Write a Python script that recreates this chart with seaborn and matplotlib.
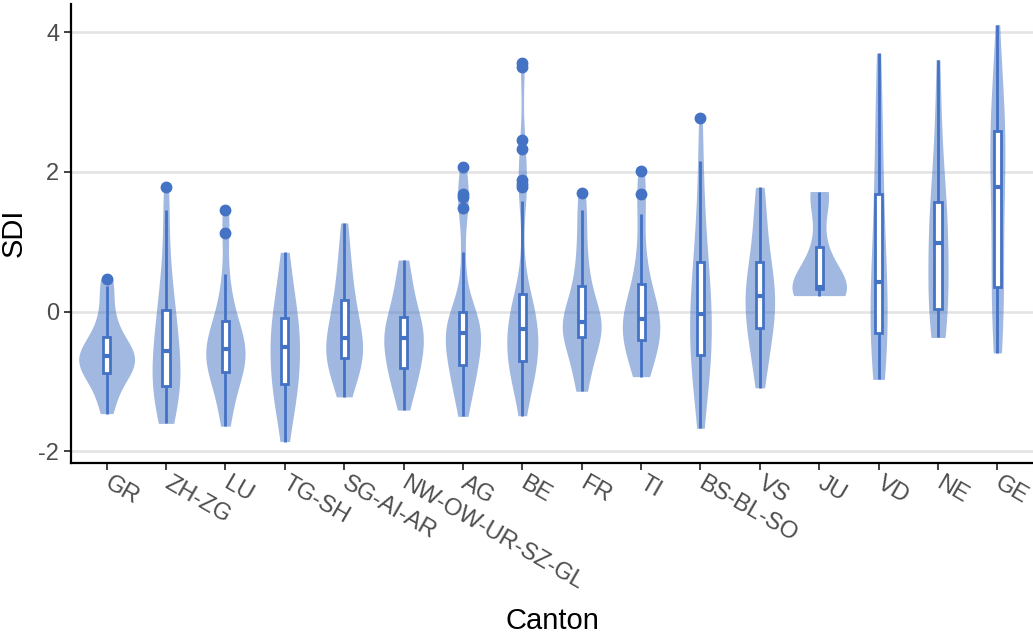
import numpy as np
import pandas as pd
import matplotlib
matplotlib.use("Agg")
import matplotlib.pyplot as plt
import seaborn as sns

# SDI-Werte je Kanton
cantons = ["GR", "ZH-ZG", "LU", "TG-SH", "SG-AI-AR", "NW-OW-UR-SZ-GL", "AG", "BE",
           "FR", "TI", "BS-BL-SO", "VS", "JU", "VD", "NE", "GE"]

sdi_gr = [-1.46, -1.3, -1.12, -1.0, -0.93, -0.88, -0.82, -0.77, -0.72, -0.68, -0.64,
          -0.61, -0.57, -0.52, -0.45, -0.37, -0.25, -0.1, 0.1, 0.37, 0.47]
sdi_zh = [-1.6, -1.42, -1.3, -1.2, -1.12, -1.06, -1.0, -0.92, -0.82, -0.7, -0.56,
          -0.45, -0.35, -0.2, -0.08, 0.03, 0.25, 0.5, 0.85, 1.45, 1.78]
sdi_lu = [-1.64, -1.4, -1.2, -1.05, -0.95, -0.86, -0.78, -0.72, -0.66, -0.6, -0.54,
          -0.48, -0.42, -0.34, -0.25, -0.14, 0.0, 0.2, 0.54, 1.12, 1.46]
sdi_tg = [-1.86, -1.6, -1.4, -1.25, -1.12, -1.03, -0.95, -0.86, -0.76, -0.63, -0.51,
          -0.42, -0.34, -0.25, -0.17, -0.09, 0.05, 0.2, 0.4, 0.6, 0.85]
sdi_sg = [-1.22, -1.05, -0.9, -0.8, -0.72, -0.67, -0.62, -0.57, -0.52, -0.45, -0.38,
          -0.3, -0.2, -0.08, 0.05, 0.17, 0.3, 0.5, 0.7, 0.95, 1.27]
sdi_nw = [-1.41, -1.2, -1.05, -0.95, -0.87, -0.8, -0.7, -0.6, -0.52, -0.45, -0.38,
          -0.33, -0.28, -0.22, -0.15, -0.08, 0.05, 0.2, 0.35, 0.55, 0.74]
sdi_ag = [-1.5, -1.3, -1.15, -1.02, -0.92, -0.84, -0.77, -0.68, -0.6, -0.52, -0.45,
          -0.37, -0.3, -0.26, -0.22, -0.17, -0.11, -0.05, 0.0, 0.3, 0.85,
          1.49, 1.64, 1.69, 2.07]
sdi_be = [-1.49, -1.3, -1.15, -1.05, -0.97, -0.9, -0.85, -0.8, -0.75, -0.7, -0.65,
          -0.6, -0.55, -0.5, -0.45, -0.4, -0.35, -0.3, -0.25, -0.2, -0.15, -0.1,
          -0.04, 0.03, 0.1, 0.16, 0.21, 0.26, 0.8, 1.59,
          1.78, 1.83, 1.88, 2.33, 2.46, 3.5, 3.56]
sdi_fr = [-1.14, -0.95, -0.8, -0.65, -0.5, -0.37, -0.32, -0.28, -0.24, -0.2, -0.15,
          -0.1, -0.03, 0.08, 0.2, 0.37, 0.55, 0.8, 1.1, 1.45, 1.7]
sdi_ti = [-0.93, -0.8, -0.7, -0.6, -0.5, -0.4, -0.33, -0.27, -0.21, -0.15, -0.1,
          -0.04, 0.03, 0.12, 0.25, 0.4, 0.6, 0.9, 1.4, 1.69, 2.02]
sdi_bs = [-1.67, -1.3, -1.05, -0.9, -0.75, -0.62, -0.5, -0.4, -0.28, -0.15, -0.03,
          0.1, 0.25, 0.4, 0.55, 0.71, 0.95, 1.25, 1.6, 2.16, 2.78]
sdi_vs = [-1.09, -0.85, -0.65, -0.5, -0.35, -0.23, -0.12, -0.04, 0.04, 0.12, 0.22,
          0.3, 0.4, 0.5, 0.6, 0.71, 0.9, 1.1, 1.35, 1.6, 1.78]
sdi_ju = [0.23, 0.26, 0.32, 0.34, 0.35, 0.5, 0.92, 1.62, 1.72]
sdi_vd = [-0.97, -0.8, -0.65, -0.52, -0.42, -0.31, -0.2, -0.05, 0.1, 0.25, 0.42,
          0.6, 0.85, 1.1, 1.4, 1.69, 2.0, 2.4, 2.8, 3.2, 3.7]
sdi_ne = [-0.37, -0.25, -0.15, -0.06, 0.0, 0.04, 0.2, 0.4, 0.6, 0.8, 0.99,
          1.1, 1.2, 1.32, 1.45, 1.57, 1.8, 2.1, 2.5, 3.0, 3.61]
sdi_ge = [-0.59, -0.4, -0.2, 0.0, 0.2, 0.36, 0.6, 0.9, 1.2, 1.5, 1.78,
          2.0, 2.2, 2.35, 2.47, 2.58, 2.7, 2.85, 3.05, 3.4, 4.11]

werte = [sdi_gr, sdi_zh, sdi_lu, sdi_tg, sdi_sg, sdi_nw, sdi_ag, sdi_be,
         sdi_fr, sdi_ti, sdi_bs, sdi_vs, sdi_ju, sdi_vd, sdi_ne, sdi_ge]

df = pd.DataFrame({
    "Canton": [c for c, w in zip(cantons, werte) for _ in w],
    "SDI": [v for w in werte for v in w],
})


# Bandbreite wie R bw.nrd0
def nrd0(kde):
    x = kde.dataset[0]
    sd = x.std(ddof=1)
    iqr = np.subtract(*np.percentile(x, [75, 25]))
    h = 0.9 * min(sd, iqr / 1.34) * len(x) ** -0.2
    return h / sd


blau = "#4472C4"
plt.rcParams["font.family"] = ["Liberation Sans", "DejaVu Sans"]
plt.rcParams["axes.unicode_minus"] = False

fig = plt.figure(figsize=(10.33, 6.35), dpi=100)
ax = fig.add_axes([71 / 1033, 172.5 / 635, 962 / 1033, 458.8 / 635])

sns.violinplot(data=df, x="Canton", y="SDI", order=cantons, color=blau, saturation=1,
               inner=None, cut=0, width=0.94, linewidth=0, bw_method=nrd0, bw_adjust=1.2,
               gridsize=300, density_norm="area", alpha=0.5, ax=ax)
sns.boxplot(data=df, x="Canton", y="SDI", order=cantons, color="white", saturation=1,
            linecolor=blau, linewidth=2, width=0.12, showcaps=False, fliersize=7.5,
            flierprops=dict(marker="o", markerfacecolor=blau, markeredgecolor=blau),
            medianprops=dict(linewidth=3, color=blau), ax=ax)

ax.set_xlim(-0.6, 15.6)
ax.set_ylim(-2.16, 4.41)
ax.set_yticks([-2, 0, 2, 4])
ax.yaxis.grid(True, color="#E3E3E3", linewidth=1.8)
ax.set_axisbelow(True)
for s in ["top", "right"]:
    ax.spines[s].set_visible(False)
for s in ["left", "bottom"]:
    ax.spines[s].set_linewidth(1.6)
    ax.spines[s].set_color("black")

ax.tick_params(axis="both", labelsize=17, labelcolor="#4D4D4D", length=5,
               width=1.3, color="#333333")
ax.tick_params(axis="x", pad=9)
for lab in ax.get_xticklabels():
    lab.set_rotation(-30)
    lab.set_ha("left")
    lab.set_va("center")
    lab.set_rotation_mode("anchor")

ax.set_xlabel("Canton", fontsize=21, color="black")
ax.xaxis.set_label_coords(0.5, -0.315)
ax.set_ylabel("SDI", fontsize=21, color="black", labelpad=8)

fig.savefig("out.png", dpi=100)
